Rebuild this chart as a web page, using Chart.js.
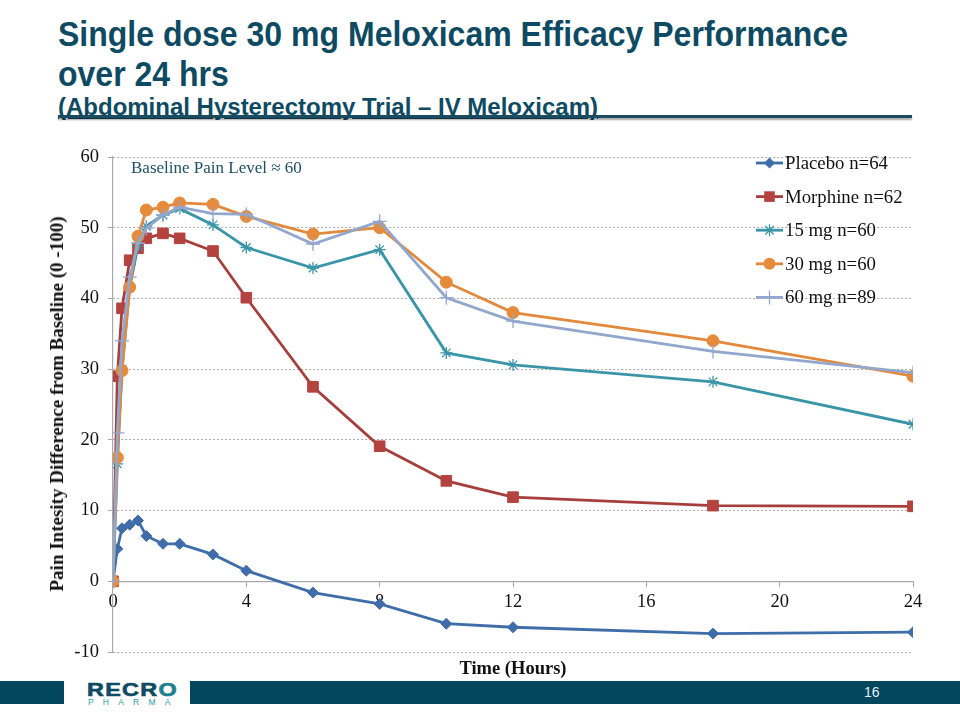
<!DOCTYPE html>
<html>
<head>
<meta charset="utf-8">
<script src="https://cdn.jsdelivr.net/npm/chart.js@4"></script>
<style>
  html, body { margin: 0; padding: 0; background: #fff; }
  #page { position: relative; width: 960px; height: 720px; overflow: hidden; background: #fff; }
  .t { position: absolute; white-space: nowrap; font-family: "Liberation Sans", Arial, sans-serif; font-weight: bold; color: #0E4B63; transform-origin: 0 0; }
  #chartWrap { position: absolute; left: 0; top: 130px; width: 960px; height: 550px; }
  #ytitle { position: absolute; font-family: "Liberation Serif", "Times New Roman", serif; font-weight: bold; font-size: 19px; color: #111; white-space: nowrap; transform: translate(-50%, -50%) rotate(-90deg); left: 57px; top: 404px; }
  #xtitle { position: absolute; font-family: "Liberation Serif", "Times New Roman", serif; font-weight: bold; font-size: 18.5px; color: #111; white-space: nowrap; transform: translate(-50%, -50%); left: 513px; top: 668px; }
  #rule { position: absolute; left: 58px; top: 115px; width: 854px; height: 3px; background: #1B4B5E; box-shadow: 0 2px 2px rgba(0,0,0,0.35); }
  .bar { position: absolute; top: 681px; height: 23px; background: #03475F; }
  #pg { position: absolute; left: 864px; top: 684px; font-family: "Liberation Sans Narrow", "Liberation Sans", Arial, sans-serif; font-size: 14px; color: #E6EEF2; }
  #logo1 { position: absolute; left: 87px; top: 680px; font-family: "Liberation Sans", Arial, sans-serif; font-weight: 900; font-size: 18px; letter-spacing: 1px; color: #0E4B63; transform-origin: 0 0; -webkit-text-stroke: 0.6px #0E4B63; }
  #logo1 span { color: #1C7F8F; -webkit-text-stroke: 0.6px #1C7F8F; }
  #logo2 { position: absolute; left: 88px; top: 697px; font-family: "Liberation Sans", Arial, sans-serif; font-size: 8.5px; letter-spacing: 9.2px; color: #2A9BA5; }
</style>
</head>
<body>
<div id="page">
  <div class="t" id="title1" style="left:58px; top:14px; font-size:35px;">Single dose 30 mg Meloxicam Efficacy Performance</div>
  <div class="t" id="title2" style="left:58px; top:54px; font-size:35px;">over 24 hrs</div>
  <div class="t" id="title3" style="left:58px; top:93px; font-size:24px; text-decoration: underline;">(Abdominal Hysterectomy Trial – IV Meloxicam)</div>
  <div id="rule"></div>
  <div id="chartWrap"><canvas id="c" width="960" height="550"></canvas></div>
  <div id="ytitle">Pain Intesity Difference from Baseline (0 -100)</div>
  <div id="xtitle">Time (Hours)</div>
  <div class="bar" style="left:0; width:64px;"></div>
  <div class="bar" style="left:190px; width:770px;"></div>
  <div id="logo1">RECR<span>O</span></div>
  <div id="logo2">PHARMA</div>
  <div id="pg">16</div>
</div>
<script>
// ---- data ----
const hours    = [0, 0.13, 0.27, 0.5, 0.75, 1, 1.5, 2, 3, 4, 6, 8, 10, 12, 18, 24];
const placebo  = [0, 4.6, 7.5, 8.0, 8.6, 6.4, 5.3, 5.3, 3.8, 1.5, -1.6, -3.2, -6.0, -6.5, -7.4, -7.2];
const morphine = [0, 29.0, 38.6, 45.4, 47.1, 48.5, 49.2, 48.5, 46.7, 40.1, 27.5, 19.1, 14.2, 11.9, 10.7, 10.6];
const mg15     = [0, 16.6, 30.0, 41.5, 47.4, 50.2, 51.8, 52.7, 50.4, 47.2, 44.3, 46.9, 32.3, 30.6, 28.2, 22.2];
const mg30     = [0, 17.5, 29.8, 41.6, 48.8, 52.5, 52.9, 53.5, 53.3, 51.6, 49.1, 50.0, 42.3, 38.0, 34.0, 29.0];
const mg60     = [0, 21.0, 34.0, 43.0, 47.8, 49.9, 51.8, 52.9, 52.0, 51.9, 47.7, 50.9, 40.1, 36.8, 32.5, 29.5];
const seriesNames = ["Placebo n=64", "Morphine n=62", "15 mg n=60", "30 mg n=60", "60 mg n=89"];
const xTicks = [0, 4, 8, 12, 16, 20, 24];
const yTicks = [-10, 0, 10, 20, 30, 40, 50, 60];
const annotationText = "Baseline Pain Level \u2248 60";

// fit title widths (layout only)
function fitWidth(id, w) {
  const el = document.getElementById(id);
  const s = w / el.getBoundingClientRect().width;
  el.style.transform = 'scaleX(' + s + ')';
  return s;
}
const sx = fitWidth('title1', 790);
document.getElementById('title2').style.transform = 'scaleX(' + sx + ')';
fitWidth('title3', 540);
fitWidth('logo1', 91);

const styles = [
  { color: '#3F6DA9', fill: '#3F6DA9', pointStyle: 'rectRot', radius: 5.5, pbw: 1 },
  { color: '#A63F3C', fill: '#B4433F', pointStyle: 'rect', radius: 7.5, pbw: 1 },
  { color: '#3A95A8', fill: '#3A95A8', pointStyle: 'star', radius: 6, pbw: 1.3 },
  { color: '#E3893B', fill: '#E68A3C', pointStyle: 'circle', radius: 6, pbw: 1 },
  { color: '#92A7CD', fill: '#92A7CD', pointStyle: 'cross', radius: 7, pbw: 1.3 }
];
const values = [placebo, morphine, mg15, mg30, mg60];

const datasets = values.map((vals, i) => ({
  label: seriesNames[i],
  data: hours.map((h, k) => ({ x: h, y: vals[k] })),
  borderColor: styles[i].color,
  backgroundColor: styles[i].fill,
  borderWidth: 2.8,
  pointStyle: styles[i].pointStyle,
  pointRadius: styles[i].radius,
  pointBorderWidth: styles[i].pbw,
  pointBorderColor: styles[i].fill,
  pointBackgroundColor: styles[i].fill,
  tension: 0,
  order: values.length - i
}));

function drawMarker(ctx, style, x, y, r) {
  ctx.save();
  ctx.fillStyle = style.fill;
  ctx.strokeStyle = style.fill;
  ctx.lineWidth = style.pbw;
  ctx.beginPath();
  if (style.pointStyle === 'circle') {
    ctx.arc(x, y, r, 0, Math.PI * 2); ctx.fill();
  } else if (style.pointStyle === 'rect') {
    const h = r * Math.SQRT1_2; ctx.rect(x - h, y - h, 2 * h, 2 * h); ctx.fill();
  } else if (style.pointStyle === 'rectRot') {
    ctx.moveTo(x, y - r); ctx.lineTo(x + r, y); ctx.lineTo(x, y + r); ctx.lineTo(x - r, y); ctx.closePath(); ctx.fill();
  } else if (style.pointStyle === 'star') {
    for (let a = 0; a < 4; a++) {
      const t = a * Math.PI / 4;
      ctx.moveTo(x + r * Math.cos(t), y + r * Math.sin(t));
      ctx.lineTo(x - r * Math.cos(t), y - r * Math.sin(t));
    }
    ctx.stroke();
  } else if (style.pointStyle === 'cross') {
    ctx.moveTo(x - r, y); ctx.lineTo(x + r, y); ctx.moveTo(x, y - r); ctx.lineTo(x, y + r); ctx.stroke();
  }
  ctx.restore();
}

const overlay = {
  id: 'overlay',
  afterDraw(chart) {
    const ctx = chart.ctx;
    const ca = chart.chartArea;
    ctx.save();
    // annotation
    ctx.font = '17px "Liberation Serif", "Times New Roman", serif';
    ctx.fillStyle = '#1E4F63';
    ctx.textBaseline = 'middle';
    ctx.textAlign = 'left';
    ctx.fillText(annotationText, ca.left + 18, ca.top + 12);
    // legend
    const lx = ca.right - 157;
    let ly = ca.top + 6;
    seriesNames.forEach((name, i) => {
      const st = styles[i];
      ctx.strokeStyle = st.color;
      ctx.lineWidth = 2.8;
      ctx.beginPath();
      ctx.moveTo(lx, ly); ctx.lineTo(lx + 27, ly); ctx.stroke();
      drawMarker(ctx, st, lx + 13.5, ly, st.radius);
      ctx.fillStyle = '#111';
      ctx.font = '18.8px "Liberation Serif", "Times New Roman", serif';
      ctx.fillText(name, lx + 29, ly + 1);
      ly += 33.6;
    });
    ctx.restore();
  }
};

const gridGray = '#A9A9A9';
new Chart(document.getElementById('c'), {
  type: 'line',
  data: { datasets },
  options: {
    responsive: false,
    animation: false,
    events: [],
    layout: { padding: { left: 0, right: 47, top: 27, bottom: 28 } },
    plugins: { legend: { display: false }, tooltip: { enabled: false } },
    scales: {
      x: {
        type: 'linear',
        position: { y: 0 },
        min: 0, max: 24,
        afterBuildTicks: (s) => { s.ticks = xTicks.map(v => ({ value: v })); },
        ticks: { padding: 5, color: '#111', font: { family: '"Liberation Serif", "Times New Roman", serif', size: 18.5 }, maxRotation: 0 },
        grid: { drawOnChartArea: false, drawTicks: true, tickLength: 5, color: gridGray },
        border: { color: gridGray, width: 1.2 }
      },
      y: {
        type: 'linear',
        min: -10, max: 60,
        afterBuildTicks: (s) => { s.ticks = yTicks.map(v => ({ value: v })); },
        afterFit: (s) => { s.width = 113; },
        ticks: { padding: 9, color: '#111', font: { family: '"Liberation Serif", "Times New Roman", serif', size: 18.5 } },
        grid: {
          color: (c) => c.tick && c.tick.value === 0 ? 'rgba(0,0,0,0)' : gridGray,
          lineWidth: 1, tickLength: 5, drawTicks: true,
          tickColor: gridGray,
          borderDash: [2, 2]
        },
        border: { color: gridGray, width: 1.2, dash: [2, 2] }
      }
    }
  },
  plugins: [overlay]
});
</script>
</body>
</html>
